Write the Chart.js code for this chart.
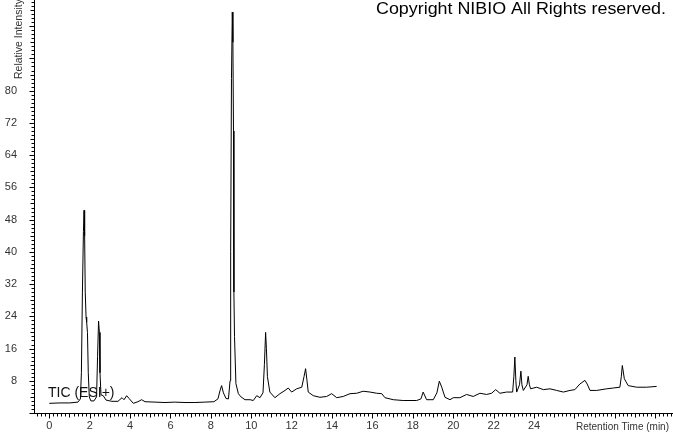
<!DOCTYPE html>
<html>
<head>
<meta charset="utf-8">
<script src="https://cdn.jsdelivr.net/npm/chart.js@4.4.0/dist/chart.umd.min.js"></script>
<style>
  html, body { margin: 0; padding: 0; background: #fff; }
  canvas { display: block; }
</style>
</head>
<body>
<canvas id="ticChart" width="673" height="433"></canvas>
<script>
// retention time (min) and relative intensity
const retentionTimes = [0, 0.53, 1.02, 1.42, 1.54, 1.59, 1.64, 1.69, 1.72, 1.75, 1.78, 1.82, 1.85, 1.89, 1.93, 1.98,
  2.06, 2.21, 2.34, 2.39, 2.44, 2.48, 2.51, 2.56, 2.67, 2.81, 3.1, 3.4, 3.6, 3.7, 3.83, 3.95, 4.16, 4.39, 4.57, 4.74,
  5.23, 5.73, 6.21, 6.72, 7.21, 7.7, 8.15, 8.35, 8.45, 8.53, 8.62, 8.75, 8.87, 8.95, 8.98, 9.02, 9.06, 9.09, 9.12,
  9.14, 9.17, 9.24, 9.36, 9.49, 9.69, 9.94, 10.1, 10.27, 10.43, 10.58, 10.65, 10.71, 10.75, 10.8, 10.92, 11.17,
  11.42, 11.67, 11.83, 12.0, 12.25, 12.5, 12.61, 12.69, 12.76, 12.82, 13.07, 13.4, 13.73, 13.98, 14.23, 14.55,
  14.89, 15.22, 15.54, 15.88, 16.21, 16.46, 16.62, 17.03, 17.52, 18.19, 18.4, 18.51, 18.68, 19.01, 19.19, 19.31,
  19.43, 19.59, 19.84, 20.0, 20.33, 20.66, 20.99, 21.32, 21.65, 21.9, 22.1, 22.31, 22.64, 22.94, 23.0, 23.05, 23.1,
  23.14, 23.28, 23.35, 23.4, 23.47, 23.65, 23.71, 23.77, 23.83, 24.13, 24.46, 24.79, 25.12, 25.45, 25.78, 26.02,
  26.27, 26.52, 26.63, 26.77, 27.1, 27.59, 27.92, 28.25, 28.32, 28.37, 28.47, 28.66, 29.08, 29.57, 30.07];
const intensities = [2.4, 2.5, 2.5, 2.7, 3.5, 10, 30, 45, 50.3, 44, 30, 23.8, 22.5, 20, 10, 4,
  3.0, 3.0, 4, 14, 22.8, 20, 10, 4.5, 4.3, 3.2, 2.9, 2.9, 3.8, 3.3, 4.3, 3.6, 2.4, 2.8, 3.3, 2.8,
  2.7, 2.6, 2.7, 2.6, 2.6, 2.7, 2.8, 3.5, 5.5, 6.8, 5, 3.6, 3.5, 8, 40, 83, 99.5, 92, 70,
  30, 19, 7.3, 4.8, 4, 3.3, 3.3, 3.1, 4.3, 3.8, 5, 12, 20, 16, 9, 5.2, 3.8,
  4.8, 5.6, 6.2, 5.2, 6.0, 6.4, 9, 11, 8, 5.2, 4.3, 3.9, 4.1, 4.8, 3.8, 4.1,
  4.8, 4.9, 5.4, 5.2, 4.9, 4.8, 3.8, 3.3, 3.1, 3.1, 3.5, 5.2, 3.3, 3.3, 5, 7.9,
  6.4, 3.9, 3.3, 3.8, 3.8, 4.6, 4.1, 4.9, 4.6, 4.9, 5.8, 4.9, 5.2, 5.2, 9, 13.9, 8,
  5.2, 7, 10.4, 7, 5.6, 7, 9.1, 7, 6.0, 6.4, 5.8, 6.0, 5.6, 5.2, 5.6, 5.8,
  7.2, 8.1, 7.2, 5.6, 5.6, 6.0, 6.2, 6.4, 9, 11.8, 8.5, 6.8, 6.4, 6.4, 6.6];

const xTickLabels = [0, 2, 4, 6, 8, 10, 12, 14, 16, 18, 20, 22, 24];
const yTickLabels = [8, 16, 24, 32, 40, 48, 56, 64, 72, 80];
const traceName = 'TIC (ESI+)';
const xTitle = 'Retention Time (min)';
const yTitle = 'Relative Intensity';
const copyrightText = 'Copyright NIBIO All Rights reserved.';

const points = retentionTimes.map((t, i) => ({ x: t, y: intensities[i] }));

// tick marks + free text drawn on top, positions taken from the scales
const decorations = {
  id: 'decorations',
  afterDraw(chart) {
    const ctx = chart.ctx;
    const xs = chart.scales.x, ys = chart.scales.y;
    const base = Math.round(ys.bottom) + 0.5;
    const left = Math.round(xs.left) + 0.5;
    ctx.save();
    ctx.strokeStyle = '#000';
    ctx.lineWidth = 1;
    ctx.beginPath();
    xs.ticks.forEach(t => {
      const px = Math.round(xs.getPixelForValue(t.value)) + 0.5;
      const k = Math.round(t.value * 5);
      const len = k % 10 === 0 ? 5 : (k % 5 === 0 ? 4 : 3);
      ctx.moveTo(px, base);
      ctx.lineTo(px, base + len);
    });
    ys.ticks.forEach(t => {
      const py = Math.round(ys.getPixelForValue(t.value)) + 0.5;
      const len = t.value % 8 === 0 ? 5 : (t.value % 4 === 0 ? 4 : 3);
      ctx.moveTo(left, py);
      ctx.lineTo(left - len, py);
    });
    ctx.stroke();

    ctx.fillStyle = '#333';
    ctx.font = '10px "Liberation Sans", Arial, sans-serif';
    ctx.textBaseline = 'alphabetic';
    ctx.textAlign = 'left';
    ctx.fillText(xTitle, 576, 430);

    ctx.save();
    ctx.translate(22, 79);
    ctx.rotate(-Math.PI / 2);
    ctx.font = '10.5px "Liberation Sans", Arial, sans-serif';
    ctx.fillText(yTitle, 0, 0);
    ctx.restore();

    ctx.fillStyle = '#111';
    ctx.font = '14px "Liberation Sans", Arial, sans-serif';
    ctx.fillText(traceName, 48, 397);

    ctx.fillStyle = '#000';
    ctx.font = '16px "Liberation Sans", Arial, sans-serif';
    const w = ctx.measureText(copyrightText).width;
    ctx.save();
    ctx.translate(376, 14);
    ctx.scale(290 / w, 1);
    ctx.fillText(copyrightText, 0, 0);
    ctx.restore();
    ctx.restore();
  }
};

const noPadding = s => { s.paddingLeft = 0; s.paddingRight = 0; s.paddingTop = 0; s.paddingBottom = 0; };

new Chart(document.getElementById('ticChart'), {
  type: 'line',
  data: {
    datasets: [{
      label: traceName,
      data: points,
      borderColor: '#000',
      borderWidth: 1,
      pointRadius: 0,
      tension: 0,
      fill: false
    }]
  },
  options: {
    responsive: false,
    animation: false,
    events: [],
    layout: { padding: { left: 0, right: 1, top: 0, bottom: 0 } },
    plugins: { legend: { display: false }, tooltip: { enabled: false } },
    scales: {
      x: {
        type: 'linear',
        min: -0.757,
        max: 30.83,
        grid: { display: false, drawTicks: false },
        border: { display: true, color: '#000', width: 1 },
        afterBuildTicks: s => {
          const arr = [];
          for (let i = -3; i <= 154; i++) arr.push({ value: i / 5 });
          s.ticks = arr;
        },
        afterFit: s => { s.height = 20; noPadding(s); },
        ticks: {
          autoSkip: false,
          maxRotation: 0,
          minRotation: 0,
          padding: 6,
          color: '#333',
          font: { family: '"Liberation Sans", Arial, sans-serif', size: 11 },
          callback: v => {
            const r = Math.round(v);
            return Math.abs(v - r) < 1e-6 && xTickLabels.includes(r) ? String(r) : '';
          }
        }
      },
      y: {
        min: 0,
        max: 102.5,
        grid: { display: false, drawTicks: false },
        border: { display: true, color: '#000', width: 1 },
        afterBuildTicks: s => {
          const arr = [];
          for (let i = 0; i <= 102; i++) arr.push({ value: i });
          s.ticks = arr;
        },
        afterFit: s => { s.width = 34; noPadding(s); },
        ticks: {
          autoSkip: false,
          padding: 17,
          color: '#333',
          font: { family: '"Liberation Sans", Arial, sans-serif', size: 11 },
          callback: v => yTickLabels.includes(v) ? String(v) : ''
        }
      }
    }
  },
  plugins: [decorations]
});
</script>
</body>
</html>
